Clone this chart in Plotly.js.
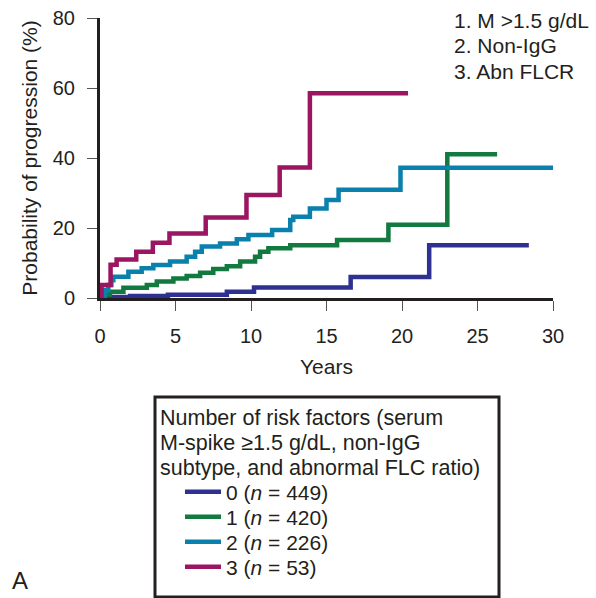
<!DOCTYPE html>
<html>
<head>
<meta charset="utf-8">
<script src="https://cdn.plot.ly/plotly-3.0.1.min.js"></script>
<style>
  html, body { margin: 0; padding: 0; background: #fff; }
  #chart { width: 596px; height: 598px; }
</style>
</head>
<body>
<div id="chart"></div>
<script>
// ---- Data ----
const seriesNames = ["0 (<i>n</i> = 449)", "1 (<i>n</i> = 420)", "2 (<i>n</i> = 226)", "3 (<i>n</i> = 53)"];

const years0 = [0, 0.5, 2.0, 4.5, 8.4, 10.2, 16.6, 21.8, 28.4];
const prog0  = [0, 0.3, 0.6, 0.9, 1.8, 3.0, 6.0, 15.1, 15.1];

const years1 = [0, 0.3, 0.66, 1.55, 3.1, 3.76, 4.86, 5.74, 6.63, 7.5, 8.4, 9.28, 10.27, 10.6, 11.15, 12.6, 15.7, 19.1, 23.0, 26.3];
const prog1  = [0, 1.0, 1.8, 2.9, 3.7, 4.7, 5.6, 6.3, 7.2, 8.3, 9.1, 10.4, 11.8, 13.2, 14.2, 15.1, 16.6, 20.9, 41.1, 41.1];

const years2 = [0, 0.33, 0.55, 0.75, 0.88, 1.88, 2.76, 3.53, 4.64, 5.74, 6.3, 6.74, 7.95, 9.06, 9.83, 11.4, 12.6, 12.8, 13.9, 15.0, 15.8, 19.9, 30.2];
const prog2  = [0, 2.3, 3.7, 5.1, 6.1, 7.5, 8.5, 9.4, 10.4, 11.8, 13.2, 14.7, 15.6, 16.8, 18.0, 19.4, 22.3, 23.2, 25.6, 28.0, 30.9, 37.2, 37.2];

const years3 = [0, 0.1, 0.7, 1.1, 2.4, 3.5, 4.6, 7.0, 9.7, 11.9, 13.9, 20.4];
const prog3  = [0, 3.7, 9.5, 11.0, 13.2, 15.8, 18.4, 23.0, 29.4, 37.3, 58.5, 58.5];

const xTicks = [0, 5, 10, 15, 20, 25, 30];
const yTicks = [0, 20, 40, 60, 80];

const legendTitleLines = [
  "Number of risk factors (serum",
  "M-spike \u22651.5 g/dL, non-IgG",
  "subtype, and abnormal FLC ratio)"
];
const riskNotes = ["1. M >1.5 g/dL", "2. Non-IgG", "3. Abn FLCR"];
const panelLabel = "A";

// ---- Styling ----
const colors = ["#2e3192", "#12793f", "#0a80ad", "#9c1560"];
const FONT = "Liberation Sans, Arial, Helvetica, sans-serif";
const INK = "#231f20";

const xs = [years0, years1, years2, years3];
const ys = [prog0, prog1, prog2, prog3];
const legendIds = ["legend", "legend2", "legend3", "legend4"];

const traces = xs.map((x, i) => ({
  type: "scatter",
  mode: "lines",
  x: x,
  y: ys[i],
  name: seriesNames[i],
  legend: legendIds[i],
  line: { shape: "hv", color: colors[i], width: 4.5 },
  hoverinfo: "skip"
}));

// pixel -> paper helpers (plot area: x 100..553, y 18..298)
const PX0 = 100, PW = 453, PY0 = 298, PH = 280;
const px = v => (v - PX0) / PW;
const py = v => (PY0 - v) / PH;

const annotations = [];
const noteY = [21, 46, 71];
riskNotes.forEach((t, i) => annotations.push({
  xref: "paper", yref: "paper", x: px(452), y: py(noteY[i]),
  xanchor: "left", yanchor: "middle", showarrow: false,
  text: t, font: { family: FONT, size: 21, color: INK }
}));
const titleY = [418, 443, 468];
legendTitleLines.forEach((t, i) => annotations.push({
  xref: "paper", yref: "paper", x: px(158), y: py(titleY[i]),
  xanchor: "left", yanchor: "middle", showarrow: false,
  text: t, font: { family: FONT, size: 21.5, color: INK }
}));
annotations.push({
  xref: "paper", yref: "paper", x: px(20), y: py(580),
  xanchor: "center", yanchor: "middle", showarrow: false,
  text: panelLabel, font: { family: FONT, size: 24, color: INK }
});

const entryY = [492, 517, 542, 567];
function legendAt(i) {
  return {
    x: px(180), y: py(entryY[i]), xanchor: "left", yanchor: "middle",
    bgcolor: "rgba(0,0,0,0)", borderwidth: 0, itemwidth: 36,
    font: { family: FONT, size: 21, color: INK }
  };
}

const layout = {
  width: 596, height: 598,
  margin: { l: 100, r: 43, t: 18, b: 300, autoexpand: false },
  paper_bgcolor: "#fff", plot_bgcolor: "#fff",
  font: { family: FONT, color: INK },
  showlegend: true,
  legend: legendAt(0),
  legend2: legendAt(1),
  legend3: legendAt(2),
  legend4: legendAt(3),
  xaxis: {
    range: [0, 30], tickvals: xTicks, ticktext: xTicks.map(String),
    showline: true, linewidth: 3, linecolor: INK,
    ticks: "outside", ticklen: 10, tickwidth: 1, tickcolor: "#555",
    tickfont: { family: FONT, size: 20, color: INK },
    ticklabelstandoff: 8,
    showgrid: false, zeroline: false, fixedrange: true,
    title: { text: "Years", font: { family: FONT, size: 21, color: INK }, standoff: 14 }
  },
  yaxis: {
    range: [0, 80], tickvals: yTicks, ticktext: yTicks.map(String),
    showline: true, linewidth: 3, linecolor: INK,
    ticks: "outside", ticklen: 10, tickwidth: 1, tickcolor: "#555",
    tickfont: { family: FONT, size: 20, color: INK },
    ticklabelstandoff: 8,
    showgrid: false, zeroline: false, fixedrange: true,
    title: { text: "Probability of progression (%)", font: { family: FONT, size: 21, color: INK }, standoff: 10 }
  },
  shapes: [{
    type: "rect", xref: "paper", yref: "paper",
    x0: px(155), x1: px(499), y0: py(397), y1: py(597),
    line: { color: INK, width: 3 }, fillcolor: "rgba(0,0,0,0)"
  }],
  annotations: annotations
};

Plotly.newPlot("chart", traces, layout, { displayModeBar: false, staticPlot: true });
</script>
</body>
</html>
